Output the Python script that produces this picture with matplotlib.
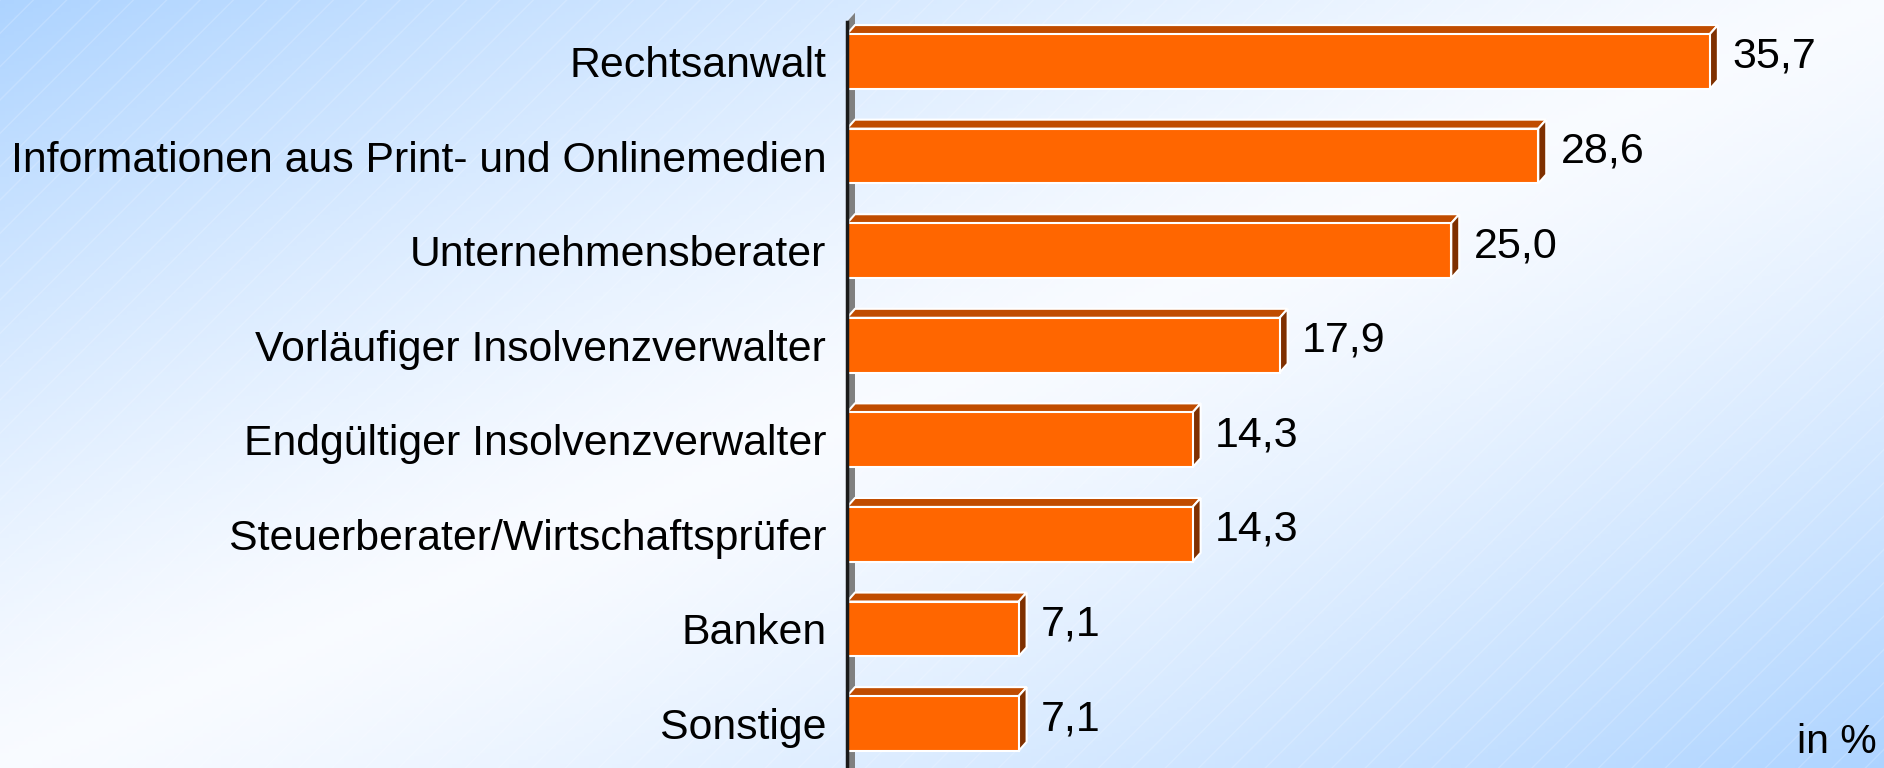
import numpy as np
import matplotlib
matplotlib.use('Agg')
import matplotlib.pyplot as plt
from matplotlib.patches import Polygon, Rectangle

# Daten
labels = ["Rechtsanwalt", "Informationen aus Print- und Onlinemedien", "Unternehmensberater",
          "Vorläufiger Insolvenzverwalter", "Endgültiger Insolvenzverwalter",
          "Steuerberater/Wirtschaftsprüfer", "Banken", "Sonstige"]
values = [35.7, 28.6, 25.0, 17.9, 14.3, 14.3, 7.1, 7.1]
value_text = ["35,7", "28,6", "25,0", "17,9", "14,3", "14,3", "7,1", "7,1"]
unit_text = "in %"

plt.rcParams['font.family'] = ['Liberation Sans', 'DejaVu Sans']

W, H = 1884, 768
fig = plt.figure(figsize=(W / 100, H / 100), dpi=100)

# hintergrund: diagonaler verlauf blau -> weiss -> blau
bg = fig.add_axes([0, 0, 1, 1])
u = np.linspace(0, 1, 400)[None, :]
v = np.linspace(0, 1, 200)[:, None]
d = np.abs((u + v) / 2 - 0.5) * 2
d = d ** 1.3
white = np.array([0.975, 0.985, 1.0])
blue = np.array([0.68, 0.83, 1.0])
img = white[None, None, :] * (1 - d[..., None]) + blue[None, None, :] * d[..., None]
bg.imshow(img, aspect='auto', extent=[0, 1, 0, 1], origin='upper')
bg.add_patch(Rectangle((0, 0), 1, 1, facecolor='none', edgecolor=(1, 1, 1, 0.18),
                       lw=0, hatch='/'))
bg.set_xlim(0, 1)
bg.set_ylim(0, 1)
bg.axis('off')

x0 = 847
scale = 24.17  # px pro prozent
ax = fig.add_axes([x0 / W, 0, (W - x0) / W, 1])
ax.patch.set_alpha(0)
ax.set_xlim(0, (W - x0) / scale)
ax.set_ylim(7.47, -0.65)

pos = np.arange(len(values))
h = 0.58
dx = 8 / scale
dy = 9 / 94.6

# wand (grau) hinter den balken
ax.add_patch(Polygon([(0, 7.6), (0, -0.42), (dx, -0.42 - dy), (dx, 7.6)],
                     closed=True, facecolor='#808080', edgecolor='none', zorder=1))
ax.plot([0, 0], [-0.42, 7.6], color='#1a1a1a', lw=2.5, zorder=5, clip_on=False)

ax.barh(pos, values, height=h, color='#FF6600', edgecolor='white', lw=1.5, zorder=3)
for p, val, txt in zip(pos, values, value_text):
    top = p - h / 2
    bot = p + h / 2
    ax.add_patch(Polygon([(0, top), (val, top), (val + dx, top - dy), (dx, top - dy)],
                         closed=True, facecolor='#C04C00', edgecolor='white', lw=1.5, zorder=2))
    ax.add_patch(Polygon([(val, top), (val + dx, top - dy), (val + dx, bot - dy), (val, bot)],
                         closed=True, facecolor='#7F3000', edgecolor='white', lw=1.5, zorder=2))
    ax.annotate(txt, (val, p - dy / 2), xytext=(16, 0), textcoords='offset points',
                va='center', ha='left', fontsize=31, color='black')

ax.set_yticks(pos)
ax.set_yticklabels(labels, fontsize=30.8)
ax.tick_params(axis='y', length=0, pad=15)
ax.set_xticks([])
for s in ax.spines.values():
    s.set_visible(False)

fig.text(1877 / W, 1 - 753 / H, unit_text, ha='right', va='baseline', fontsize=29.5)

fig.savefig('out.png', dpi=100)
